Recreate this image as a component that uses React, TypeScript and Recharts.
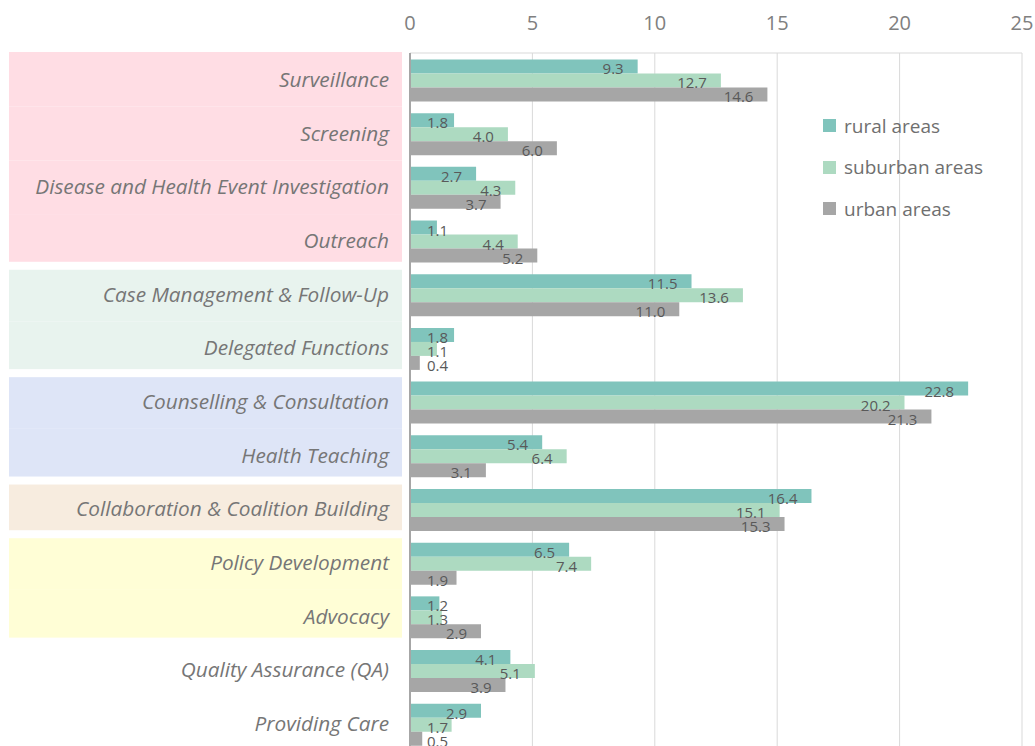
import React from 'react';
import { BarChart, Bar, XAxis, YAxis, CartesianGrid, Legend, LabelList } from 'recharts';

const categories = [
    'Surveillance',
    'Screening',
    'Disease and Health Event Investigation',
    'Outreach',
    'Case Management & Follow-Up',
    'Delegated Functions',
    'Counselling & Consultation',
    'Health Teaching',
    'Collaboration & Coalition Building',
    'Policy Development',
    'Advocacy',
    'Quality Assurance (QA)',
    'Providing Care'
];

const rural = [9.3, 1.8, 2.7, 1.1, 11.5, 1.8, 22.8, 5.4, 16.4, 6.5, 1.2, 4.1, 2.9];
const suburban = [12.7, 4.0, 4.3, 4.4, 13.6, 1.1, 20.2, 6.4, 15.1, 7.4, 1.3, 5.1, 1.7];
const urban = [14.6, 6.0, 3.7, 5.2, 11.0, 0.4, 21.3, 3.1, 15.3, 1.9, 2.9, 3.9, 0.5];

const xTicks = [0, 5, 10, 15, 20, 25];

// category index ranges that share a background colour
const groups = [
    { from: 0, to: 3, color: '#FFDDE4' },
    { from: 4, to: 5, color: '#E8F3EE' },
    { from: 6, to: 7, color: '#DEE5F7' },
    { from: 8, to: 8, color: '#F7ECDF' },
    { from: 9, to: 10, color: '#FFFED6' }
];

const SERIES = [
    { key: 'rural', name: 'rural areas', color: '#80C4BC' },
    { key: 'suburban', name: 'suburban areas', color: '#ADDAC1' },
    { key: 'urban', name: 'urban areas', color: '#A6A6A6' }
];

const data = categories.map((name, i) => ({
    name,
    rural: rural[i],
    suburban: suburban[i],
    urban: urban[i]
}));

const WIDTH = 1035;
const HEIGHT = 760;
const MARGIN = { top: 0, right: 13, left: 0, bottom: 9 };
const X_AXIS_H = 53;
const FONT = '"Open Sans", "Noto Sans", sans-serif';
const BAND = (HEIGHT - MARGIN.top - MARGIN.bottom - X_AXIS_H) / categories.length;

const CategoryTick = (props: any) => {
    const { x, y, payload, index } = props;
    const g = groups.find(gr => index >= gr.from && index <= gr.to);
    let rect = null;
    if (g) {
        const top = y - BAND / 2 + (index === g.from ? (g.from === 0 ? -1 : 2) : 0);
        const bottom = y + BAND / 2 - (index === g.to ? 6 : 0);
        rect = <rect x={x - 401} y={top} width={393} height={bottom - top} fill={g.color} />;
    }
    return (
        <g>
            {rect}
            <text
                x={x - 21}
                y={y + 7}
                textAnchor="end"
                fill="#767676"
                fontSize={20.8}
                fontStyle="italic"
                fontFamily={FONT}
            >
                {payload.value}
            </text>
        </g>
    );
};

const ValueLabel = (props: any) => {
    const { x, y, width, height, value } = props;
    const tx = Math.max(x + width - 14, x + 38);
    return (
        <text x={tx} y={y + height / 2 + 8} textAnchor="end" fill="#595959" fontSize={15} fontFamily={FONT}>
            {Number(value).toFixed(1)}
        </text>
    );
};

const LegendBox = () => (
    <div style={{ fontFamily: FONT }}>
        {SERIES.map(s => (
            <div key={s.key} style={{ display: 'flex', alignItems: 'center', height: 41.5 }}>
                <span style={{ width: 13, height: 13, background: s.color, display: 'inline-block', marginRight: 8 }} />
                <span style={{ fontSize: 19, color: '#6F6F6F' }}>{s.name}</span>
            </div>
        ))}
    </div>
);

export default function App() {
    return (
        <div style={{ position: 'absolute', left: 0, top: 0, background: '#fff' }}>
            <BarChart
                width={WIDTH}
                height={HEIGHT}
                data={data}
                layout="vertical"
                margin={MARGIN}
                barCategoryGap="12%"
                barGap={0}
            >
                <CartesianGrid horizontal={false} stroke="#D9D9D9" />
                <XAxis
                    type="number"
                    orientation="top"
                    domain={[0, 25]}
                    ticks={xTicks}
                    height={X_AXIS_H}
                    axisLine={{ stroke: '#D9D9D9' }}
                    tickLine={false}
                    tickSize={0}
                    tickMargin={23}
                    tick={{ fill: '#808080', fontSize: 20, fontFamily: FONT }}
                />
                <YAxis
                    type="category"
                    dataKey="name"
                    width={410}
                    axisLine={{ stroke: '#A6A6A6', strokeWidth: 2 }}
                    tickLine={false}
                    tickSize={0}
                    tickMargin={0}
                    interval={0}
                    tick={<CategoryTick />}
                />
                <Legend
                    layout="vertical"
                    verticalAlign="middle"
                    align="center"
                    content={<LegendBox />}
                    wrapperStyle={{ top: 105, left: 823, width: 200 }}
                />
                {SERIES.map(s => (
                    <Bar key={s.key} dataKey={s.key} name={s.name} fill={s.color} isAnimationActive={false}>
                        <LabelList dataKey={s.key} content={<ValueLabel />} />
                    </Bar>
                ))}
            </BarChart>
        </div>
    );
}
